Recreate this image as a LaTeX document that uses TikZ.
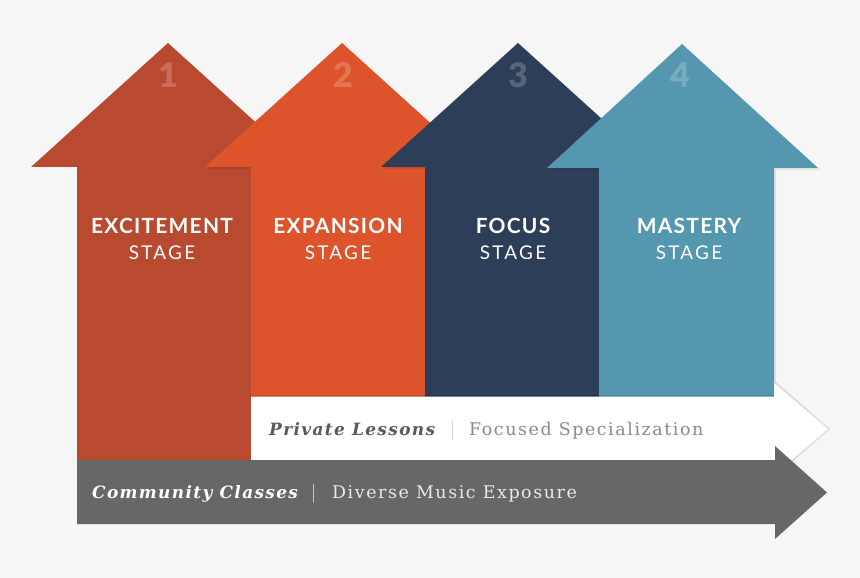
\documentclass[tikz,border=0pt]{standalone}
\usepackage{fontspec}
\newfontfamily\stagebold[LetterSpace=6]{Lato Bold}
\newfontfamily\stagereg[LetterSpace=12]{Lato}
\newfontfamily\numfont{Lato Black}
\newfontfamily\slabbi[LetterSpace=8]{DejaVu Serif}
\newfontfamily\slabreg[LetterSpace=9]{DejaVu Serif}
\definecolor{bg}{HTML}{F6F6F6}
\definecolor{cA}{HTML}{B94A30}
\definecolor{cB}{HTML}{DD532B}
\definecolor{cC}{HTML}{2D3F58}
\definecolor{cD}{HTML}{5697B0}
\definecolor{cG}{HTML}{676767}
\definecolor{tdark}{HTML}{5A5A5A}
\definecolor{tlight}{HTML}{8A8A8A}
\tikzset{
  stagetitle/.style={anchor=base,text=white,inner sep=0pt,font=\stagebold\fontsize{21}{21}\selectfont},
  stagesub/.style={anchor=base,text=white,inner sep=0pt,font=\stagereg\fontsize{19}{19}\selectfont},
  stepnum/.style={anchor=base,text=white,text opacity=0.2,inner sep=0pt,font=\numfont\fontsize{34}{34}\selectfont},
  barlabel/.style={anchor=base west,inner sep=0pt},
  softshadow/.style={fill=black,opacity=0.08}
}
\begin{document}
\begin{tikzpicture}[x=1bp,y=-1bp]
\fill[bg] (0,0) rectangle (860,578);
\useasboundingbox (0,0) rectangle (860,578);
% arrow 1
\fill[cA] (77,460) -- (77,167) -- (31,167) -- (168,43) -- (305,167) -- (255,167) -- (255,460) -- cycle;
% arrow 2
\fill[softshadow] (253,398) -- (253,169) -- (207,169) -- (344,45) -- (481,169) -- (435,169) -- (435,398) -- cycle;
\fill[cB] (251,400) -- (251,167) -- (205,167) -- (342,43) -- (479,167) -- (433,167) -- (433,400) -- cycle;
% arrow 3
\fill[softshadow] (427,398) -- (427,169) -- (383,169) -- (520,45) -- (657,169) -- (611,169) -- (611,398) -- cycle;
\fill[cC] (425,400) -- (425,167) -- (381,167) -- (518,43) -- (655,167) -- (609,167) -- (609,400) -- cycle;
% arrow 4
\fill[softshadow] (601,398) -- (601,170) -- (549,170) -- (684,46) -- (820,170) -- (776,170) -- (776,398) -- cycle;
\fill[cD] (599,400) -- (599,168) -- (547,168) -- (682,44) -- (818,168) -- (774,168) -- (774,400) -- cycle;
% white arrow
\fill[black,opacity=0.10] (251,395) -- (775,395) -- (775,381) -- (830,429) -- (775,477) -- (775,460) -- (251,460) -- cycle;
\fill[white] (251,396.5) -- (774,396.5) -- (774,383) -- (828,429) -- (774,475) -- (774,460) -- (251,460) -- cycle;
% gray arrow
\fill[cG] (77,460) -- (775,460) -- (775,446) -- (827,492.5) -- (775,539) -- (775,524) -- (77,524) -- cycle;
% numbers
\node[stepnum] (n1) at (168,88) {1};
\node[stepnum] (n2) at (343,88) {2};
\node[stepnum] (n3) at (518,88) {3};
\node[stepnum] (n4) at (680,88) {4};
% stage texts
\node[stagetitle] (t1) at (162,234) {EXCITEMENT};
\node[stagesub] (s1) at (162,259) {STAGE};
\node[stagetitle] (t2) at (338,234) {EXPANSION};
\node[stagesub] (s2) at (338,259) {STAGE};
\node[stagetitle] (t3) at (513,234) {FOCUS};
\node[stagesub] (s3) at (513,259) {STAGE};
\node[stagetitle] (t4) at (689,234) {MASTERY};
\node[stagesub] (s4) at (689,259) {STAGE};
% bar labels
\node[barlabel,text=tdark,font=\slabbi\bfseries\itshape\fontsize{17}{17}\selectfont] (pl) at (269,435) {Private Lessons};
\node[barlabel,text=black!25,font=\fontsize{19}{19}\selectfont] (pb) at (450,435) {|};
\node[barlabel,text=tlight,font=\slabreg\fontsize{17.5}{17.5}\selectfont] (pf) at (469,435) {Focused Specialization};
\node[barlabel,text=white,font=\slabbi\bfseries\itshape\fontsize{17}{17}\selectfont] (cc) at (92,498) {Community Classes};
\node[barlabel,text=white!80!cG,font=\fontsize{19}{19}\selectfont] (cb) at (311,498) {|};
\node[barlabel,text=white!85!cG,font=\slabreg\fontsize{17.5}{17.5}\selectfont] (cd) at (332,498) {Diverse Music Exposure};
\end{tikzpicture}
\end{document}
